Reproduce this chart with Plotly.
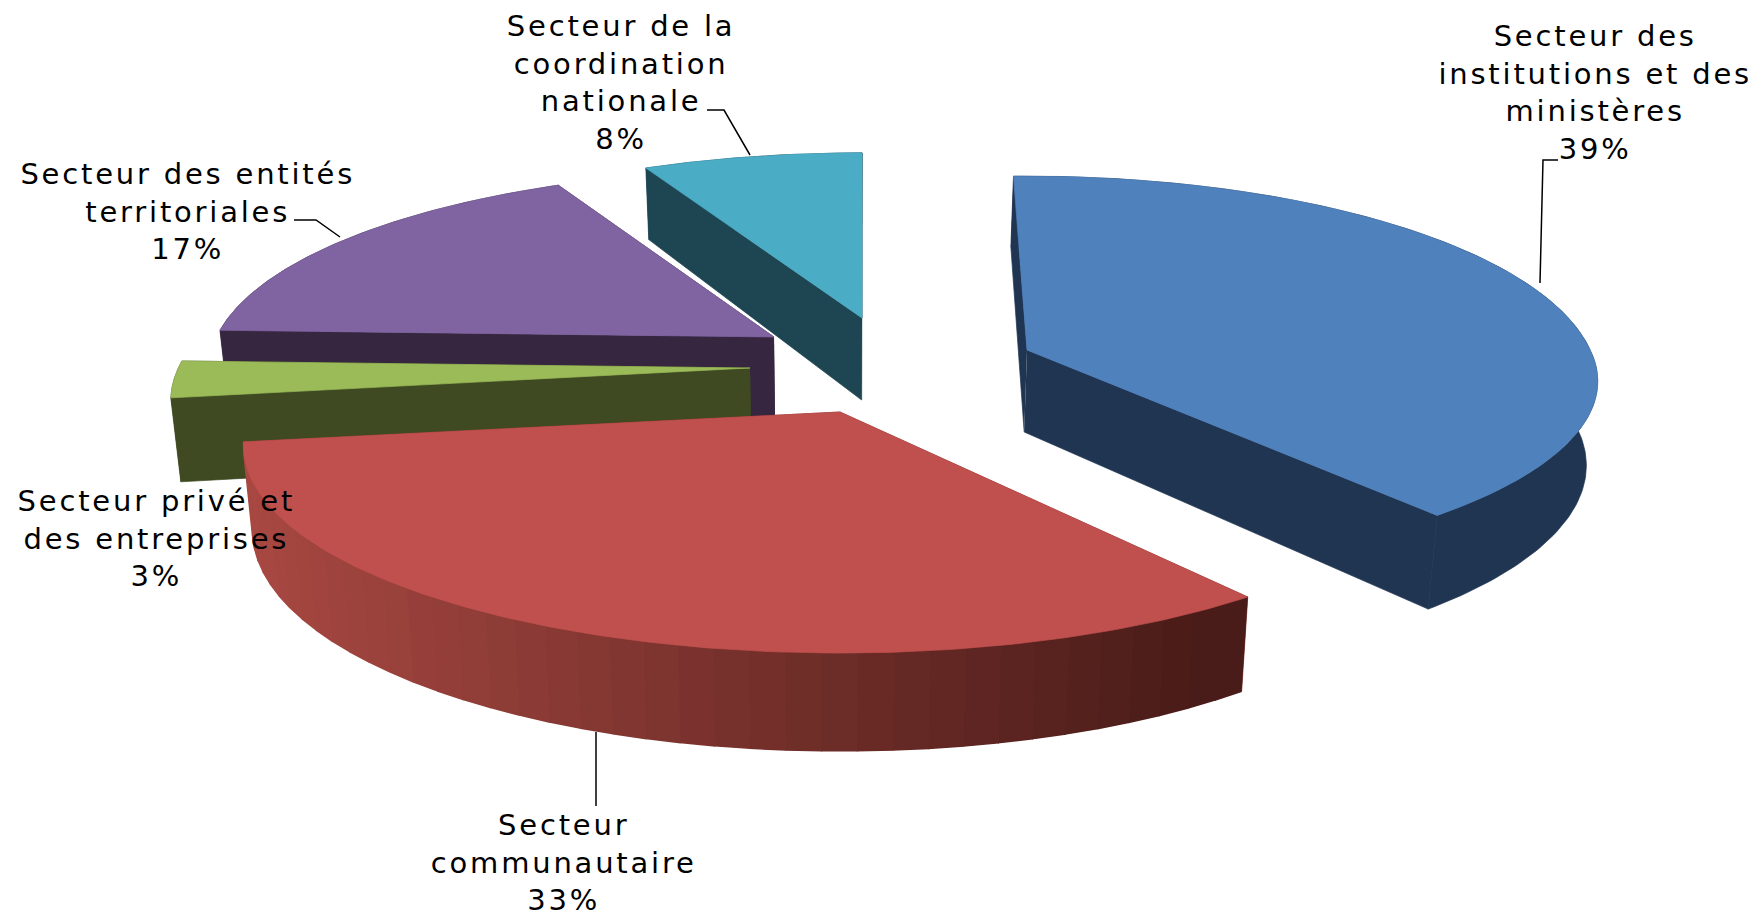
import numpy as np
import plotly.graph_objects as go

# Data
names = ["Secteur des<br>institutions et des<br>ministères", "Secteur<br>communautaire",
         "Secteur privé et<br>des entreprises", "Secteur des entités<br>territoriales",
         "Secteur de la<br>coordination<br>nationale"]
shares = [39, 33, 3, 17, 8]

# Styles: colours, explosion offsets and per-slice perspective corrections
top_colors = ["#4F81BD", "#C0504D", "#9BBB59", "#8064A2", "#4BACC6"]
side_colors = ["#1F3552", "#7A2F2C", "#3F4A22", "#362640", "#1D4552"]
apex = [(1027, 350), (840, 412), (750, 368), (774, 337), (862, 318)]
scale_x = [0.995, 1.04, 1.01, 0.985, 0.98]
scale_back = [1.0, 1.0, 1.0, 0.96, 0.95]
scale_front = [0.93, 1.0, 1.0, 1.0, 1.0]
nudge_start = [-1.6, 2.5, 2.5, 2.0, 2.3]
nudge_end = [0.0, 2.5, 2.0, 2.5, 0.0]
label_pos = [(1595, 92), (563, 862), (156, 538), (187, 211), (621, 82)]
leaders = [[(1540, 283), (1543, 160), (1558, 160)],
           [(596, 732), (596, 806)],
           [(340, 237), (316, 220), (294, 220)],
           [(750, 155), (724, 110), (707, 110)]]
A, B, K, DEPTH, VX, SHRINK = 566, 202, 0.162, 82, 840, 0.985
RED_LEFT, RED_RIGHT = np.array([168, 72, 66]), np.array([74, 28, 25])


def rim(i, th):
    cx, cy = apex[i]
    X, Z = np.sin(th), np.cos(th)
    d = 1 + K * Z
    sy = np.where(Z > 0, scale_back[i], scale_front[i])
    return cx + A * scale_x[i] * X / d, cy - B * sy * Z / d, DEPTH / d


def lower(x, y, dep):
    return VX + (x - VX) * SHRINK, y + dep


fig = go.Figure()


def poly(xs, ys, color, width=0.7):
    fig.add_trace(go.Scatter(x=list(xs), y=list(ys), mode="lines", fill="toself", fillcolor=color,
                             line=dict(color=color, width=width), hoverinfo="skip", showlegend=False))


edges = np.cumsum([0] + shares) / sum(shares) * 360.0
order = [4, 3, 2, 0, 1]
for i in order:
    cx, cy = apex[i]
    t0 = np.radians(edges[i] + nudge_start[i])
    t1 = np.radians(edges[i + 1] + nudge_end[i])
    ths = np.linspace(t0, t1, 161)
    xs, ys, dep = rim(i, ths)
    bx, by = lower(xs, ys, dep)
    ax, ay = lower(cx, cy, DEPTH)
    # radial side faces
    for j in (0, -1):
        poly([cx, xs[j], bx[j], ax], [cy, ys[j], by[j], ay], side_colors[i])
    # outer wall
    if i == 1:
        step = 4
        for n in range(0, len(ths) - 1, step):
            m = n + step
            f = np.clip((xs[n] - 255) / (1215 - 255), 0, 1)
            c = RED_LEFT + (RED_RIGHT - RED_LEFT) * f
            poly(list(xs[n:m + 1]) + list(bx[n:m + 1][::-1]), list(ys[n:m + 1]) + list(by[n:m + 1][::-1]),
                 "rgb(%d,%d,%d)" % tuple(c), 1.6)
    else:
        poly(list(xs) + list(bx[::-1]), list(ys) + list(by[::-1]), side_colors[i])
    # top face
    poly([cx] + list(xs) + [cx], [cy] + list(ys) + [cy], top_colors[i])

for pts in leaders:
    fig.add_trace(go.Scatter(x=[p[0] for p in pts], y=[p[1] for p in pts], mode="lines",
                             line=dict(color="black", width=1.5), hoverinfo="skip", showlegend=False))

annotations = [dict(x=p[0], y=p[1], xref="x", yref="y", text=f"{n}<br>{s}%", showarrow=False,
                    align="center", xanchor="center", yanchor="middle",
                    font=dict(family="DejaVu Sans", size=29, color="black"))
               for n, s, p in zip(names, shares, label_pos)]

fig.update_layout(width=1760, height=919, margin=dict(l=0, r=0, t=0, b=0),
                  paper_bgcolor="white", plot_bgcolor="white", annotations=annotations,
                  xaxis=dict(range=[0, 1760], visible=False, fixedrange=True),
                  yaxis=dict(range=[919, 0], visible=False, fixedrange=True))
fig.write_html("out.html", config=dict(displayModeBar=False),
               post_script="document.body.style.margin='0';"
                           "document.querySelectorAll('.annotation-text').forEach(function(t){t.style.letterSpacing='2.8px';});")
